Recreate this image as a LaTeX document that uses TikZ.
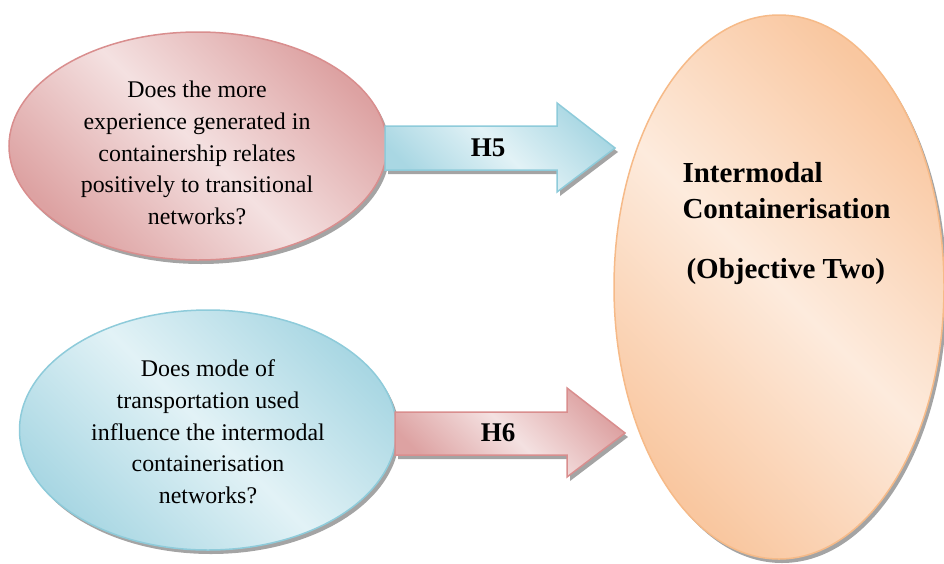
\documentclass[tikz,border=0pt]{standalone}
\usepackage{fontspec}
\setmainfont{Liberation Serif}
\usetikzlibrary{shapes.geometric,shadows}
\definecolor{pinkL}{HTML}{F4E1E1}
\definecolor{pinkD}{HTML}{DDA2A2}
\definecolor{pinkB}{HTML}{D98E8E}
\definecolor{blueL}{HTML}{E2F2F6}
\definecolor{blueD}{HTML}{A9D7E3}
\definecolor{blueB}{HTML}{8ECBDA}
\definecolor{oraL}{HTML}{FDEBDD}
\definecolor{oraD}{HTML}{F9C7A0}
\definecolor{oraB}{HTML}{F6BA88}
\definecolor{shad}{HTML}{9A9A9A}
\tikzset{
  shd/.style={drop shadow={shadow xshift=3pt,shadow yshift=-4pt,fill=shad,opacity=0.9}},
  pinkfill/.style={left color=pinkD,right color=pinkD,middle color=pinkL,shading angle=-45},
  bluefill/.style={left color=blueD,right color=blueD,middle color=blueL,shading angle=-45},
  orafill/.style={left color=oraD,right color=oraD,middle color=oraL,shading angle=-45},
  qbox/.style={ellipse,line width=1.5pt,inner sep=0pt},
  qtext/.style={align=center,font=\fontsize{23.9}{31.7}\selectfont},
  btext/.style={font=\fontsize{27}{30}\selectfont\bfseries},
}
\begin{document}
\begin{tikzpicture}[x=1pt,y=-1pt]
\useasboundingbox (0,0) rectangle (944,563);
% big orange ellipse
\node[qbox,shd,orafill,draw=oraB,minimum width=330pt,minimum height=544pt] (obj) at (779,287) {};
% top pink ellipse
\node[qbox,shd,pinkfill,draw=pinkB,minimum width=378pt,minimum height=228pt] (q5) at (198,146) {};
\node[qtext] (t5) at (197,153) {Does the more\\experience generated in\\containership relates\\positively to transitional\\networks?};
% bottom blue ellipse
\node[qbox,shd,bluefill,draw=blueB,minimum width=377pt,minimum height=240pt] (q6) at (208,430) {};
\node[qtext] (t6) at (208,432) {Does mode of\\transportation used\\influence the intermodal\\containerisation\\networks?};
% arrow H5
\path[shd,bluefill,draw=blueB,line width=1.5pt,line join=miter]
  (385,126) -- (557,126) -- (557,103) -- (615,148) -- (557,192) -- (557,170) -- (385,170) -- cycle;
\node[btext] (h5) at (488,148) {H5};
% arrow H6
\path[shd,pinkfill,draw=pinkB,line width=1.5pt,line join=miter]
  (395,412) -- (567,412) -- (567,388) -- (625,433) -- (567,477) -- (567,455) -- (395,455) -- cycle;
\node[btext] (h6) at (498,433) {H6};
% objective text
\node[anchor=base west,font=\fontsize{29}{36}\selectfont\bfseries] (l1) at (679,182) {Intermodal};
\node[anchor=base west,font=\fontsize{29}{36}\selectfont\bfseries] (l2) at (679,218) {Containerisation};
\node[anchor=base west,font=\fontsize{29}{36}\selectfont\bfseries] (l3) at (683,278) {(Objective Two)};
\end{tikzpicture}
\end{document}
